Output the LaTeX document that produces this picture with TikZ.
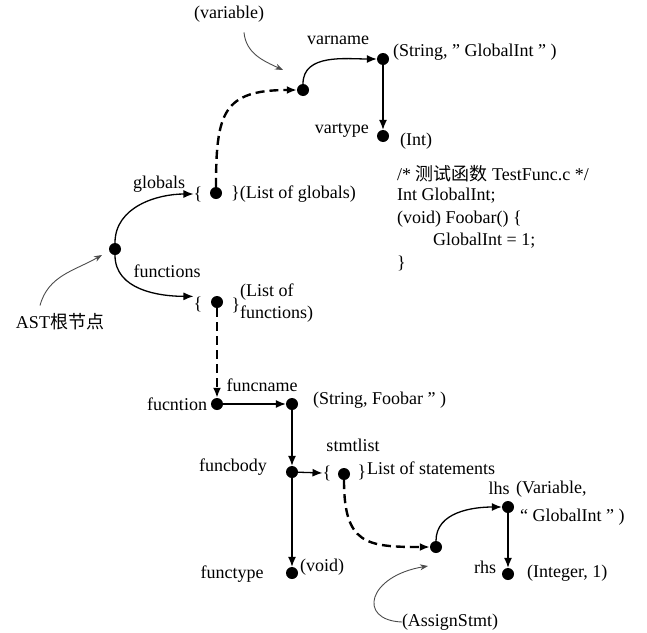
\documentclass[tikz,border=0pt]{standalone}
\usepackage{fontspec}
\setmainfont{Liberation Serif}
\newfontfamily\cjk{Noto Sans CJK SC}
\usetikzlibrary{arrows.meta}

\begin{document}
\begin{tikzpicture}[x=1pt,y=-1pt,
  every node/.style={font=\fontsize{18}{21}\selectfont, inner sep=0pt},
  dotn/.style={circle, fill=black, minimum size=12pt, inner sep=0pt},
  link/.style={line width=1.3pt, -{Latex[length=10pt,width=8pt]}},
  ptr/.style={link, line width=2.4pt, dash pattern=on 9pt off 5pt},
  note/.style={draw=black!70, line width=0.9pt, -{Stealth[length=8pt,width=6pt]}}]

\useasboundingbox (0,0) rectangle (647,632);

% tree nodes (dots)
\node[dotn] (root)  at (115,249) {};
\node[dotn] (gdot)  at (216,193) {};
\node[dotn] (vdot)  at (303,90)  {};
\node[dotn] (vndot) at (383,59)  {};
\node[dotn] (vtdot) at (383,136) {};
\node[dotn] (fdot)  at (217,302) {};
\node[dotn] (fndot) at (217,404) {};
\node[dotn] (fnmdot) at (292,404) {};
\node[dotn] (fbdot) at (292,472) {};
\node[dotn] (sdot)  at (344,474) {};
\node[dotn] (ftdot) at (292,573) {};
\node[dotn] (adot)  at (436,547) {};
\node[dotn] (ldot)  at (508,507) {};
\node[dotn] (rdot)  at (508,574) {};

% list braces
\node (glb) at (198,194) {\{};
\node[anchor=west] (glbr) at (231,194) {\}(List of globals)};
\node (fnl) at (198,304) {\{};
\node (fnlr) at (236,305) {\}};
\node[anchor=west] (fnlt1) at (240,292) {(List of};
\node[anchor=west] (fnlt2) at (240,314) {functions)};
\node (stb) at (327,473) {\{};
\node (stbr) at (362,472) {\}};
\node[anchor=west] (stbt) at (367,468) {List of statements};

% field labels
\node (lglobals) at (159,184) {globals};
\node (lfunctions) at (167,271) {functions};
\node (lvarname) at (338,40) {varname};
\node[anchor=east] (lvartype) at (369,130) {vartype};
\node (lfuncname) at (262,385) {funcname};
\node (lfucntion) at (177,404) {fucntion};
\node (lstmtlist) at (353,445) {stmtlist};
\node (lfuncbody) at (233,467) {funcbody};
\node (lfunctype) at (232,574) {functype};
\node (llhs) at (499,488) {lhs};
\node (lrhs) at (485,567) {rhs};

% values
\node[anchor=west] (vvarname) at (393,52) {(String, ” GlobalInt ” )};
\node[anchor=west] (vvartype) at (400,141) {(Int)};
\node[anchor=west] (vfuncname) at (313,400) {(String, Foobar ” )};
\node[anchor=west] (vfunctype) at (300,567) {(void)};
\node[anchor=west] (vlhs1) at (516,489) {(Variable,};
\node[anchor=west] (vlhs2) at (520,517) {“ GlobalInt ” )};
\node[anchor=west] (vrhs) at (527,573) {(Integer, 1)};

% source code
\node[anchor=west] (c1) at (397,174) {/* {\cjk 测试函数} TestFunc.c */};
\node[anchor=west] (c2) at (397,196) {Int GlobalInt;};
\node[anchor=west] (c3) at (397,219) {(void) Foobar() \{};
\node[anchor=west] (c4) at (433,241) {GlobalInt = 1;};
\node[anchor=west] (c5) at (397,263) {\}};

% annotations
\node (vlab) at (229,14) {(variable)};
\node (ast) at (60,322) {AST{\cjk 根节点}};
\node (asg) at (450,622) {(AssignStmt)};
\coordinate (vtip) at (283,70);
\coordinate (asttip) at (102,255);
\coordinate (asgtip) at (428,566);

% edges
\draw[link] (root) to[out=90,in=180] (glb.west);
\draw[link] (root) to[out=-90,in=180] (fnl.north west);
\draw[ptr] (gdot) to[out=90,in=180,looseness=1.5] (vdot);
\draw[link] (vdot) to[out=90,in=180] (vndot);
\draw[link] (vndot) -- (vtdot);
\draw[ptr] (fdot) -- (fndot);
\draw[link] (fndot) -- (fnmdot);
\draw[link] (fnmdot) -- (fbdot);
\draw[link] (fbdot) -- (stb.west);
\draw[link] (fbdot) -- (ftdot);
\draw[ptr] (sdot) to[out=-90,in=180,looseness=1.5] (adot);
\draw[link] (adot) to[out=90,in=180] (ldot);
\draw[link] (ldot) -- (rdot);

% annotation pointers
\draw[note] ([xshift=15pt,yshift=-10pt]vlab.south) to[out=-85,in=155] (vtip);
\draw[note] ([xshift=-20pt,yshift=8pt]ast.north) to[out=75,in=210] (asttip);
\draw[note] (asg.west) .. controls +(-45,-2) and +(-60,10) .. (asgtip);
\end{tikzpicture}
\end{document}
